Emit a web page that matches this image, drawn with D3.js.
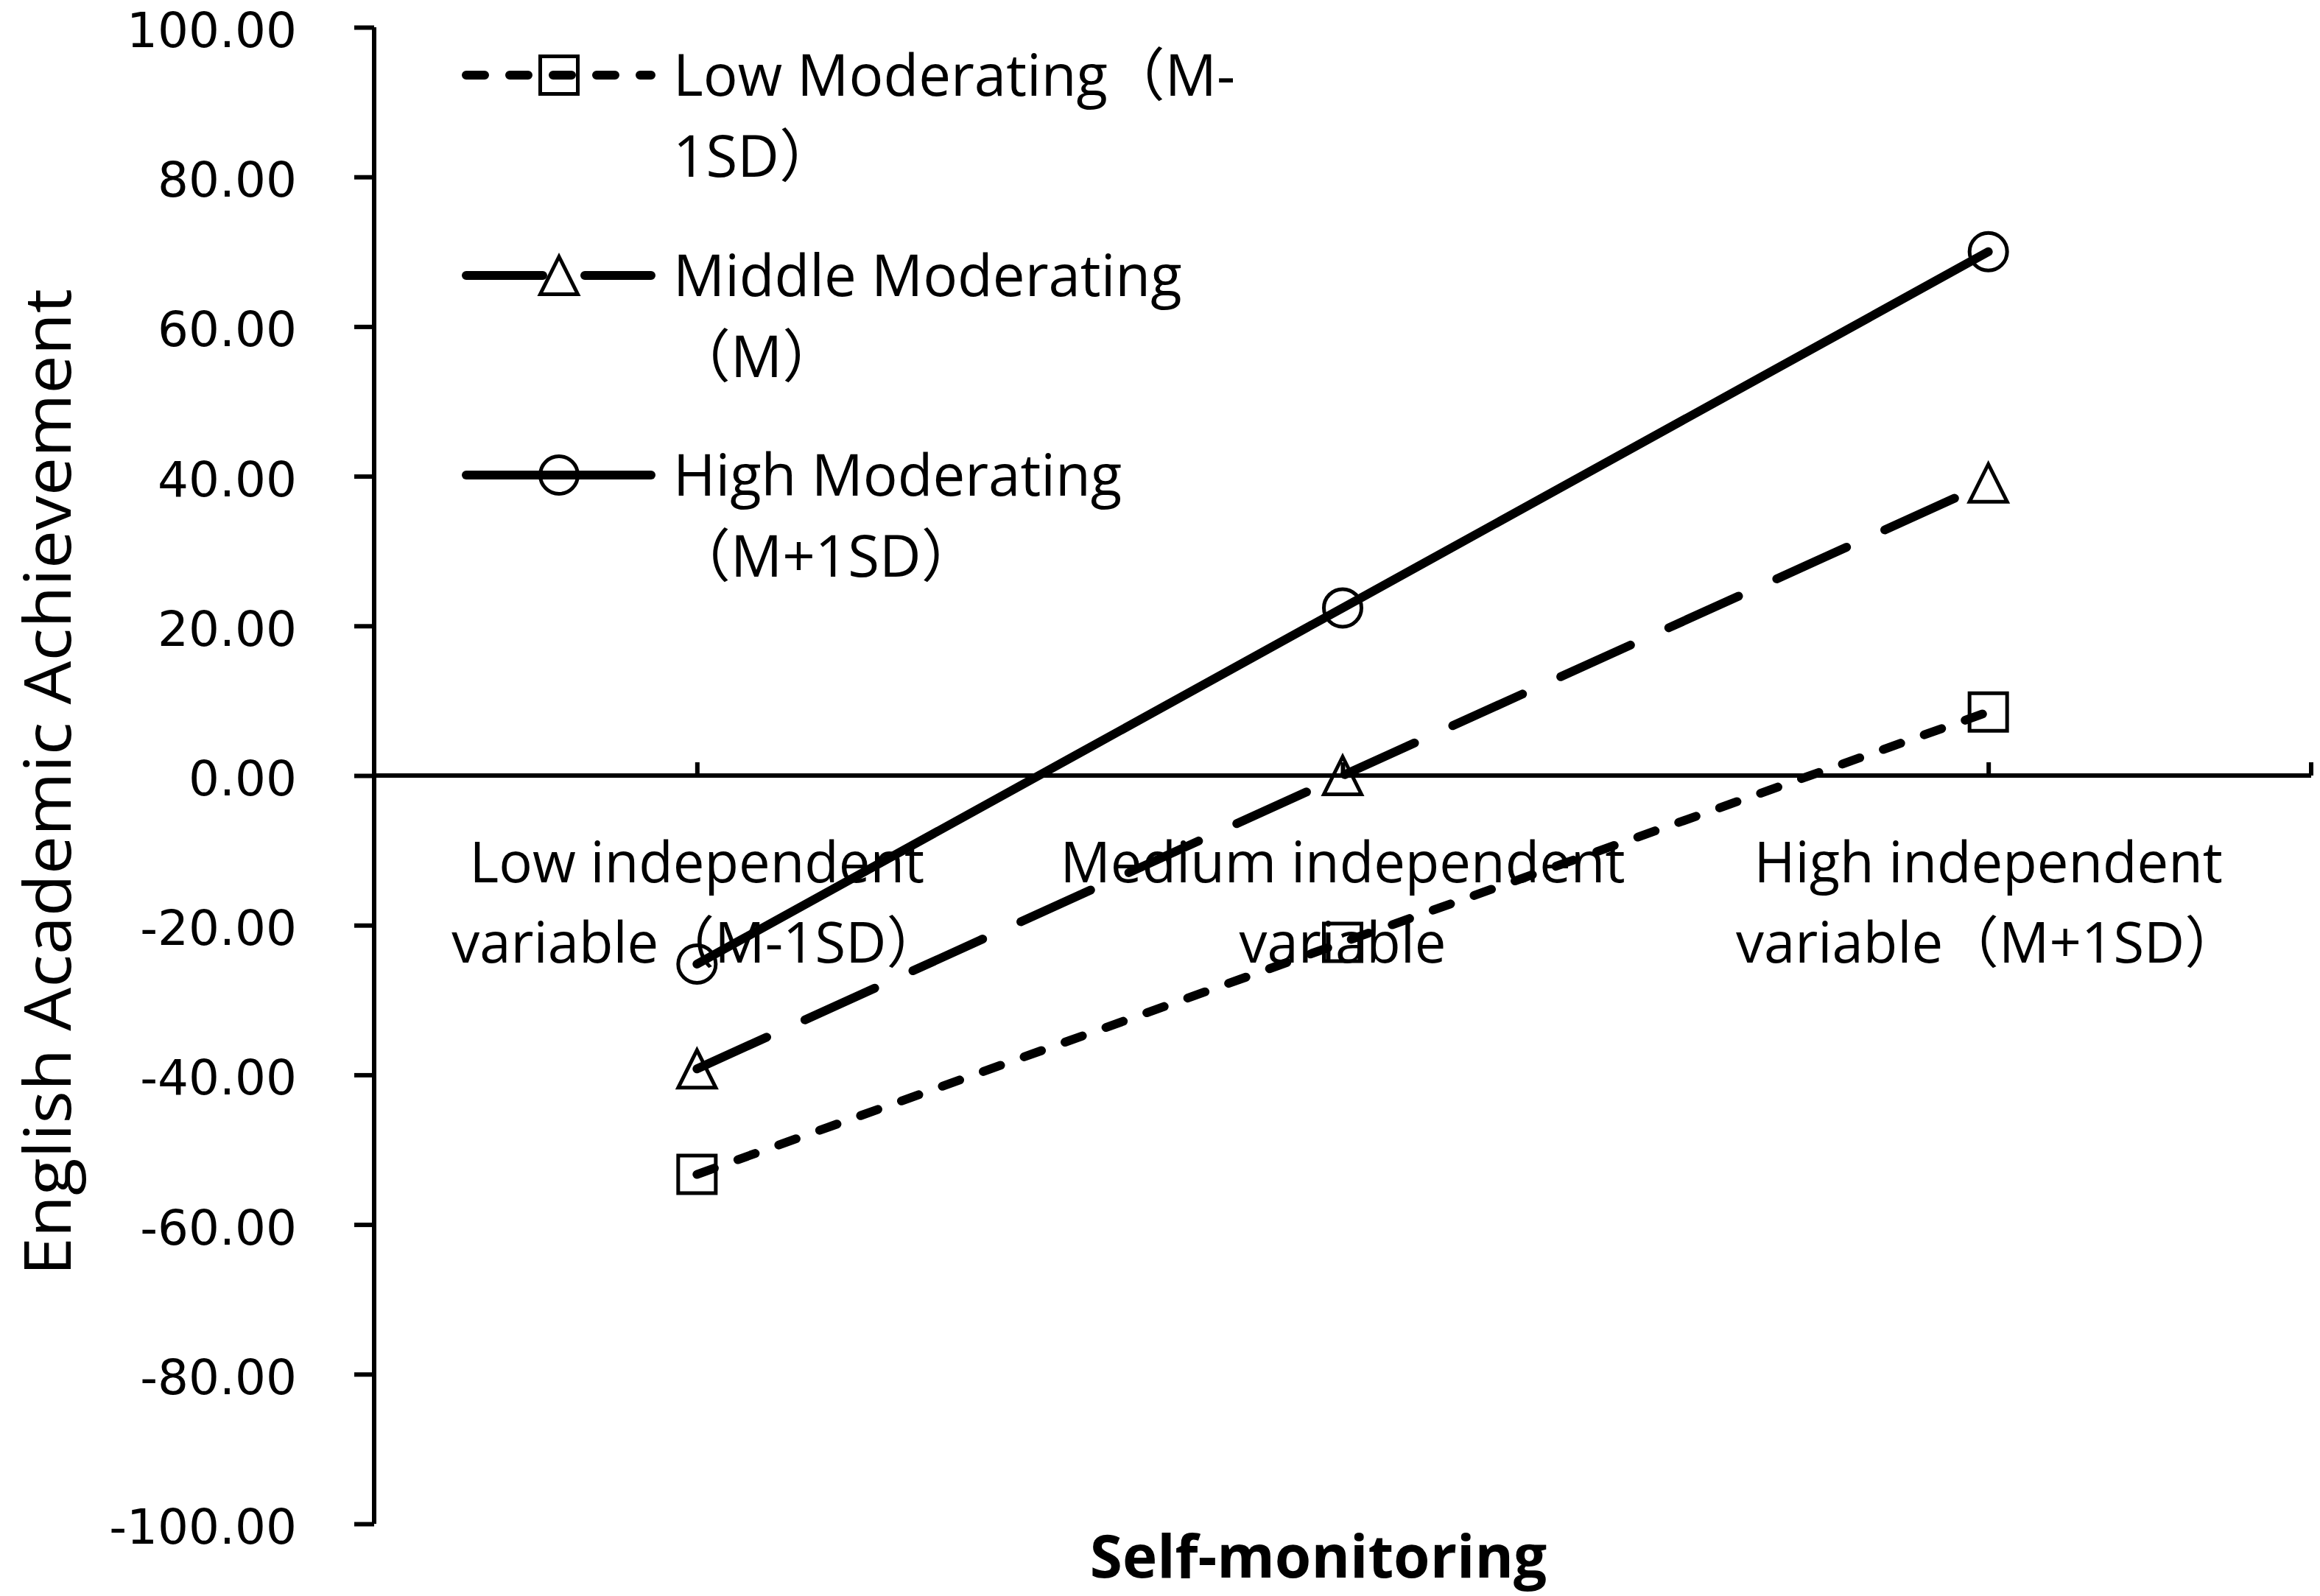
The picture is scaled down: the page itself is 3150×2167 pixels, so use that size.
<!DOCTYPE html>
<html>
<head>
<meta charset="utf-8">
<script src="https://cdn.jsdelivr.net/npm/d3@7"></script>
<style>
  html, body { margin: 0; padding: 0; background: #ffffff; }
  svg { display: block; }
  text { font-family: "Open Sans", "Noto Sans CJK SC", sans-serif; fill: #000; }
</style>
</head>
<body>
<svg id="chart" width="3150" height="2167"></svg>
<script>
// ---------------- data ----------------
const categories = ["Low", "Medium", "High"];
const categoryLabels = [
  ["Low independent", "variable（M-1SD）"],
  ["Medium independent", "variable"],
  ["High independent", "variable（M+1SD）"]
];
const seriesNames = ["Low Moderating（M-1SD）", "Middle Moderating（M）", "High Moderating（M+1SD）"];
const legendLabels = [
  ["Low Moderating（M-", "1SD）"],
  ["Middle Moderating", "（M）"],
  ["High Moderating", "（M+1SD）"]
];
const lowModerating = [-53.3, -22.3, 8.5];
const middleModerating = [-39.2, 0.0, 39.1];
const highModerating = [-25.2, 22.4, 70.0];
const yTicks = [-100, -80, -60, -40, -20, 0, 20, 40, 60, 80, 100];
const yTitle = "English Academic Achievement";
const xTitle = "Self-monitoring";

// ---------------- layout ----------------
const W = 3150, H = 2167;
const plot = { left: 508, right: 3138, top: 37, bottom: 2069 };
const svg = d3.select("#chart");
svg.append("rect").attr("width", W).attr("height", H).attr("fill", "#fff");

const x = d3.scalePoint().domain(categories).range([plot.left, plot.right]).padding(0.5);
const y = d3.scaleLinear().domain([-100, 100]).range([plot.bottom, plot.top]);

// custom isosceles triangle (width == height), like the Excel marker
const triangleType = {
  draw(ctx, size) {
    const s = Math.sqrt(size);
    ctx.moveTo(0, -s / 2);
    ctx.lineTo(s / 2, s / 2);
    ctx.lineTo(-s / 2, s / 2);
    ctx.closePath();
  }
};

const series = [
  { name: seriesNames[0], values: lowModerating, dash: "25 34", symbol: d3.symbolSquare, size: 51 * 51 },
  { name: seriesNames[1], values: middleModerating, dash: "104 57", symbol: triangleType, size: 51 * 51 },
  { name: seriesNames[2], values: highModerating, dash: null, symbol: d3.symbolCircle, size: Math.PI * 25.5 * 25.5 }
];

// ---------------- y axis ----------------
const fmt = d3.format(".2f");
const yAxis = d3.axisLeft(y).tickValues(yTicks).tickSize(27)
  .tickFormat(d => fmt(d).replace("\u2212", "-"));
const gy = svg.append("g").attr("transform", `translate(${plot.left},0)`).call(yAxis);
gy.select(".domain").attr("stroke", "#000").attr("stroke-width", 6)
  .attr("d", `M0,${plot.top}V${plot.bottom}`);
gy.selectAll(".tick line").attr("stroke", "#000").attr("stroke-width", 6);
gy.selectAll(".tick text")
  .attr("x", -105)
  .attr("dy", "0.40em")
  .style("font-family", "'DejaVu Sans', sans-serif")
  .style("font-size", "66px")
  .attr("fill", "#000");

// ---------------- x axis (at y = 0) ----------------
const gx = svg.append("g").attr("transform", `translate(0,${y(0)})`);
const xAxis = d3.axisTop(x).tickSize(18).tickFormat("");
gx.call(xAxis);
gx.select(".domain").attr("stroke", "#000").attr("stroke-width", 6)
  .attr("d", `M${plot.left},0H${plot.right}`);
gx.selectAll(".tick line").attr("stroke", "#000").attr("stroke-width", 6);
gx.append("line").attr("x1", plot.right).attr("x2", plot.right).attr("y1", 0).attr("y2", -18)
  .attr("stroke", "#000").attr("stroke-width", 6);

// category labels
const catG = svg.append("g");
categories.forEach((c, i) => {
  const t = catG.append("text")
    .attr("text-anchor", "middle")
    .style("font-size", "76px");
  categoryLabels[i].forEach((line, j) => {
    t.append("tspan").attr("x", x(c)).attr("y", 1198 + j * 109).text(line);
  });
});

// ---------------- series ----------------
const lineGen = d3.line().x((d, i) => x(categories[i])).y(d => y(d));
series.forEach(s => {
  svg.append("path")
    .datum(s.values)
    .attr("d", lineGen)
    .attr("fill", "none")
    .attr("stroke", "#000")
    .attr("stroke-width", 12)
    .attr("stroke-linecap", "round")
    .attr("stroke-linejoin", "round")
    .attr("stroke-dasharray", s.dash);
  svg.append("g").selectAll("path")
    .data(s.values)
    .join("path")
    .attr("transform", (d, i) => `translate(${x(categories[i])},${y(d)})`)
    .attr("d", d3.symbol().type(s.symbol).size(s.size))
    .attr("fill", "none")
    .attr("stroke", "#000")
    .attr("stroke-width", 5);
});

// ---------------- legend ----------------
const legend = svg.append("g");
const legX0 = 633, legX1 = 884, legMarkX = 759, legTextX = 914;
const legY = [102, 374, 645];
series.forEach((s, i) => {
  const ly = legY[i];
  legend.append("path")
    .attr("d", d3.line()([[legX0, ly], [legX1, ly]]))
    .attr("stroke", "#000").attr("stroke-width", 12)
    .attr("stroke-linecap", "round")
    .attr("stroke-dasharray", s.dash)
    .attr("fill", "none");
  legend.append("path")
    .attr("transform", `translate(${legMarkX},${ly})`)
    .attr("d", d3.symbol().type(s.symbol).size(s.size))
    .attr("fill", "none").attr("stroke", "#000").attr("stroke-width", 5);
  const t = legend.append("text").style("font-size", "78px");
  legendLabels[i].forEach((line, j) => {
    t.append("tspan").attr("x", legTextX).attr("y", ly + 28 + j * 110).text(line);
  });
});

// ---------------- titles ----------------
svg.append("text")
  .attr("transform", `translate(96,1062) rotate(-90)`)
  .attr("text-anchor", "middle")
  .attr("textLength", 1340)
  .attr("lengthAdjust", "spacingAndGlyphs")
  .style("font-size", "88px")
  .text(yTitle);

svg.append("text")
  .attr("x", 1790).attr("y", 2142)
  .attr("text-anchor", "middle")
  .style("font-size", "80px")
  .style("font-weight", "bold")
  .text(xTitle);
</script>
</body>
</html>
